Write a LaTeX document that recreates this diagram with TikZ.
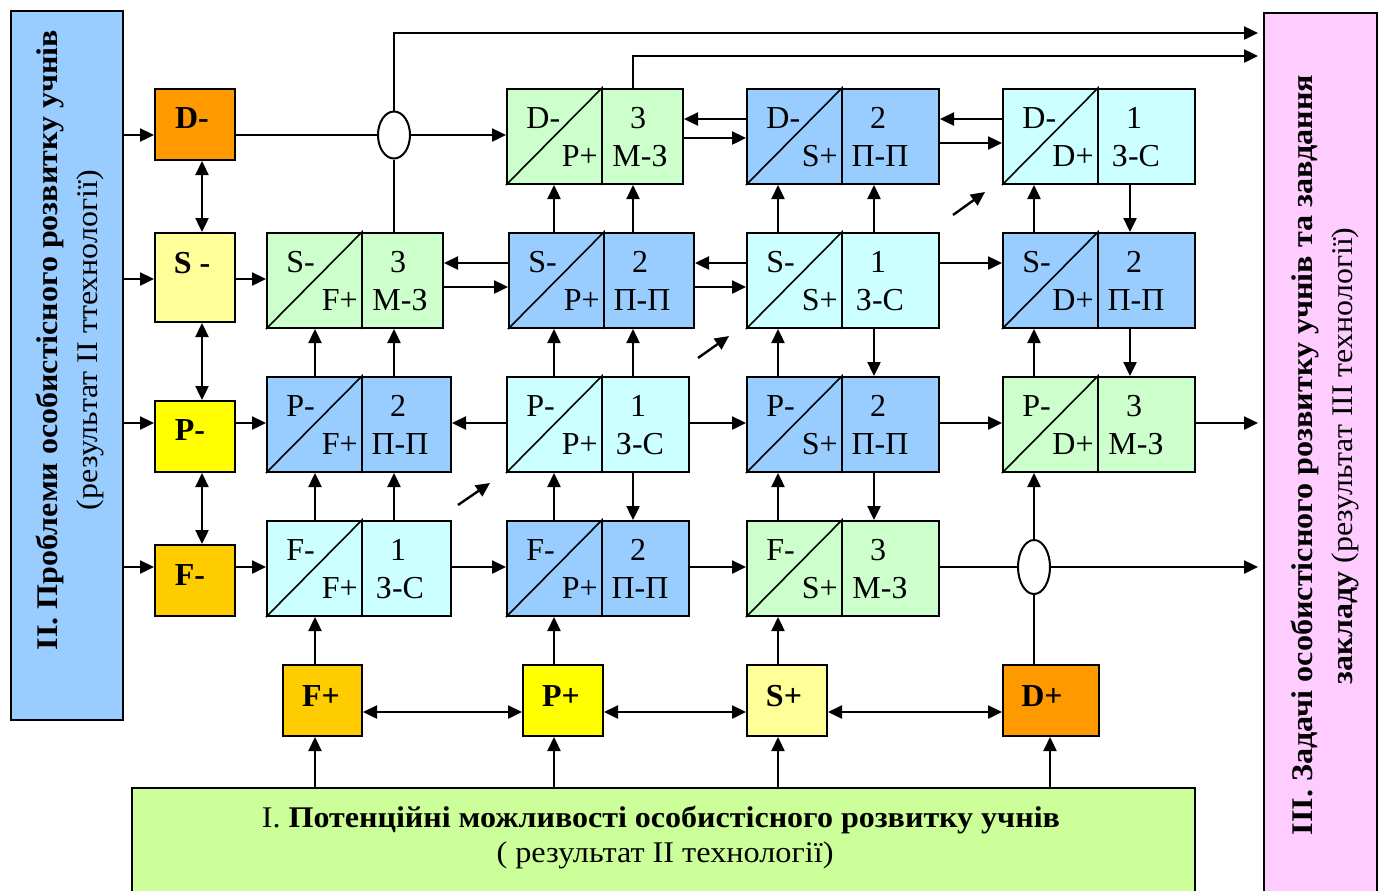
\documentclass[tikz,border=0pt]{standalone}
\usepackage{fontspec}
\setmainfont{Liberation Serif}
\usetikzlibrary{arrows.meta,shapes.geometric,calc}
\definecolor{sideblue}{HTML}{99CCFF}
\definecolor{cgreen}{HTML}{CCFFCC}
\definecolor{cblue}{HTML}{99CCFF}
\definecolor{ccyan}{HTML}{CCFFFF}
\definecolor{corange}{HTML}{FF9900}
\definecolor{cltyellow}{HTML}{FFFF99}
\definecolor{cyellow}{HTML}{FFFF00}
\definecolor{cgold}{HTML}{FFCC00}
\definecolor{botgreen}{HTML}{CCFF99}
\definecolor{cpink}{HTML}{FFCCFF}
\tikzset{
  cellbox/.style={draw, line width=1pt, inner sep=0pt, minimum height=47.5pt, anchor=north west},
  smallbox/.style={draw, line width=1pt, inner sep=0pt, anchor=north west},
  celltext/.style={inner sep=0pt, font=\fontsize{16}{18}\selectfont},
  boldtext/.style={inner sep=0pt, font=\fontsize{16}{18}\selectfont\bfseries},
  sidetext/.style={inner sep=0pt, rotate=90, font=\fontsize{15}{17}\selectfont},
  ln/.style={line width=1.2pt},
  arr/.style={line width=1.2pt, -{Triangle[length=7pt,width=6.5pt]}},
  darr/.style={line width=1.2pt, {Triangle[length=7pt,width=6.5pt]}-{Triangle[length=7pt,width=6.5pt]}},
  diag/.style={line width=0.8pt}
}
\newcommand{\mycell}[9]{%
  \node[cellbox, fill=#5, minimum width=#4*0.5pt] (#1) at (#2,#3) {};
  \draw[diag] (#1.south west) -- ($(#1.north west)+(96,0)$) -- ($(#1.south west)+(96,0)$);
  \node[celltext, anchor=base west] (#1-a) at ($(#1.north west)+(20,40)$) {#6};
  \node[celltext, anchor=base east] (#1-b) at ($(#1.north west)+(92,78)$) {#7};
  \node[celltext, anchor=base] (#1-n) at ($(#1.north west)+(132,40)$) {#8};
  \node[celltext, anchor=base] (#1-c) at ($(#1.north west)+(134,78)$) {#9};
}
\begin{document}
\begin{tikzpicture}[x=0.5pt,y=-0.5pt]
\useasboundingbox (0,0) rectangle (1386,890);

% ---- side panels and bottom panel
\node[smallbox, fill=sideblue, minimum width=56pt, minimum height=354.5pt] (L) at (10,10) {};
\node[sidetext, font=\fontsize{15}{17}\selectfont\bfseries] (Lt1) at (50,340) {\resizebox{310pt}{\height}{ІІ. Проблеми особистісного розвитку учнів}};
\node[sidetext] (Lt2) at (90,340) {\resizebox{170pt}{\height}{(результат ІІ ттехнології)}};

\node[smallbox, fill=cpink, minimum width=56.5pt, minimum height=445pt] (R) at (1263,12) {};
\node[sidetext, font=\fontsize{15}{17}\selectfont\bfseries] (Rt1) at (1305,455) {\resizebox{380pt}{\height}{ІІІ. Задачі особистісного розвитку учнів та завдання}};
\node[sidetext] (Rt2) at (1345,456) {\resizebox{228.5pt}{\height}{\textbf{закладу} (результат ІІІ технології)}};

\node[smallbox, fill=botgreen, minimum width=531.5pt, minimum height=56pt] (B) at (131,787) {};
\node[inner sep=0pt, font=\fontsize{15}{17}\selectfont] (Bt1) at (661,820) {\resizebox{399pt}{\height}{І. \textbf{Потенційні можливості особистісного розвитку учнів}}};
\node[inner sep=0pt, font=\fontsize{15}{17}\selectfont] (Bt2) at (665,855) {\resizebox{168.5pt}{\height}{( результат ІІ технології)}};

% ---- left small boxes
\node[smallbox, fill=corange, minimum width=40pt, minimum height=35.5pt] (Dm) at (154,88) {};
\node[boldtext, anchor=base] (Dmt) at (192,128) {D-};
\node[smallbox, fill=cltyellow, minimum width=40pt, minimum height=44.5pt] (Sm) at (154,232) {};
\node[boldtext, anchor=base] (Smt) at (192,273) {S -};
\node[smallbox, fill=cyellow, minimum width=40pt, minimum height=35.5pt] (Pm) at (154,400) {};
\node[boldtext, anchor=base] (Pmt) at (190,440) {P-};
\node[smallbox, fill=cgold, minimum width=40pt, minimum height=35.5pt] (Fm) at (154,544) {};
\node[boldtext, anchor=base] (Fmt) at (190,585) {F-};

% ---- bottom small boxes
\node[smallbox, fill=cgold, minimum width=39.5pt, minimum height=35.5pt] (Fp) at (282,664) {};
\node[boldtext, anchor=base] (Fpt) at (321,706) {F+};
\node[smallbox, fill=cyellow, minimum width=40pt, minimum height=35.5pt] (Pp) at (522,664) {};
\node[boldtext, anchor=base] (Ppt) at (561,706) {P+};
\node[smallbox, fill=cltyellow, minimum width=40pt, minimum height=35.5pt] (Sp) at (746,664) {};
\node[boldtext, anchor=base] (Spt) at (784,706) {S+};
\node[smallbox, fill=corange, minimum width=48pt, minimum height=35.5pt] (Dp) at (1002,664) {};
\node[boldtext, anchor=base] (Dpt) at (1042,706) {D+};

% ---- grid cells
\mycell{DP}{506}{88}{176}{cgreen}{D-}{P+}{3}{М-З}
\mycell{DS}{746}{88}{192}{cblue}{D-}{S+}{2}{П-П}
\mycell{DD}{1002}{88}{192}{ccyan}{D-}{D+}{1}{З-С}

\mycell{SF}{266}{232}{176}{cgreen}{S-}{F+}{3}{М-З}
\mycell{SP}{508}{232}{185}{cblue}{S-}{P+}{2}{П-П}
\mycell{SS}{746}{232}{192}{ccyan}{S-}{S+}{1}{З-С}
\mycell{SD}{1002}{232}{192}{cblue}{S-}{D+}{2}{П-П}

\mycell{PF}{266}{376}{184}{cblue}{P-}{F+}{2}{П-П}
\mycell{PP}{506}{376}{182}{ccyan}{P-}{P+}{1}{З-С}
\mycell{PS}{746}{376}{192}{cblue}{P-}{S+}{2}{П-П}
\mycell{PD}{1002}{376}{192}{cgreen}{P-}{D+}{3}{М-З}

\mycell{FF}{266}{520}{184}{ccyan}{F-}{F+}{1}{З-С}
\mycell{FP}{506}{520}{182}{cblue}{F-}{P+}{2}{П-П}
\mycell{FS}{746}{520}{192}{cgreen}{F-}{S+}{3}{М-З}

% ---- free ends
\coordinate (t1) at (1258,33);
\coordinate (t2) at (1258,56);
\coordinate (oP) at (1258,423);
\coordinate (oF) at (1258,567);

% ---- crossings
\node[ellipse, draw, fill=white, line width=1pt, minimum width=16pt, minimum height=23.5pt, inner sep=0pt] (e1) at (394,135) {};
\node[ellipse, draw, fill=white, line width=1pt, minimum width=16pt, minimum height=27pt, inner sep=0pt] (e2) at (1034,567) {};

% ---- sidebar to left boxes
\draw[arr] (L.east |- 0,135) -- (Dm.west |- 0,135);
\draw[arr] (L.east |- 0,279) -- (Sm.west |- 0,279);
\draw[arr] (L.east |- 0,423) -- (Pm.west |- 0,423);
\draw[arr] (L.east |- 0,567) -- (Fm.west |- 0,567);
\draw[darr] (Dm.south -| 202,0) -- (Sm.north -| 202,0);
\draw[darr] (Sm.south -| 202,0) -- (Pm.north -| 202,0);
\draw[darr] (Pm.south -| 202,0) -- (Fm.north -| 202,0);

% ---- row D
\draw[ln] (Dm.east |- 0,135) -- (e1.west);
\draw[arr] (e1.east) -- (DP.west |- 0,135);
\draw[arr] (DS.west |- 0,119) -- (DP.east |- 0,119);
\draw[arr] (DP.east |- 0,138) -- (DS.west |- 0,138);
\draw[arr] (DD.west |- 0,119) -- (DS.east |- 0,119);
\draw[arr] (DS.east |- 0,143) -- (DD.west |- 0,143);
\draw[ln] (SF.north -| 394,0) -- (e1.south);
\draw[arr] (e1.north) |- (t1);
\draw[arr] (DP.north -| 633,0) |- (t2);

% ---- row S
\draw[arr] (Sm.east |- 0,279) -- (SF.west |- 0,279);
\draw[arr] (SP.west |- 0,263) -- (SF.east |- 0,263);
\draw[arr] (SF.east |- 0,287) -- (SP.west |- 0,287);
\draw[arr] (SS.west |- 0,263) -- (SP.east |- 0,263);
\draw[arr] (SP.east |- 0,287) -- (SS.west |- 0,287);
\draw[arr] (SS.east |- 0,263) -- (SD.west |- 0,263);

% ---- row P
\draw[arr] (Pm.east |- 0,423) -- (PF.west |- 0,423);
\draw[arr] (PP.west |- 0,423) -- (PF.east |- 0,423);
\draw[arr] (PP.east |- 0,423) -- (PS.west |- 0,423);
\draw[arr] (PS.east |- 0,423) -- (PD.west |- 0,423);
\draw[arr] (PD.east |- 0,423) -- (oP);

% ---- row F
\draw[arr] (Fm.east |- 0,567) -- (FF.west |- 0,567);
\draw[arr] (FF.east |- 0,567) -- (FP.west |- 0,567);
\draw[arr] (FP.east |- 0,567) -- (FS.west |- 0,567);
\draw[ln] (FS.east |- 0,567) -- (e2.west);
\draw[arr] (e2.east) -- (oF);

% ---- verticals F -> P
\draw[arr] (FF.north -| 315,0) -- (PF.south -| 315,0);
\draw[arr] (FF.north -| 394,0) -- (PF.south -| 394,0);
\draw[arr] (FP.north -| 554,0) -- (PP.south -| 554,0);
\draw[arr] (PP.south -| 633,0) -- (FP.north -| 633,0);
\draw[arr] (FS.north -| 778,0) -- (PS.south -| 778,0);
\draw[arr] (PS.south -| 874,0) -- (FS.north -| 874,0);

% ---- verticals P -> S
\draw[arr] (PF.north -| 315,0) -- (SF.south -| 315,0);
\draw[arr] (PF.north -| 394,0) -- (SF.south -| 394,0);
\draw[arr] (PP.north -| 554,0) -- (SP.south -| 554,0);
\draw[arr] (PP.north -| 633,0) -- (SP.south -| 633,0);
\draw[arr] (PS.north -| 778,0) -- (SS.south -| 778,0);
\draw[arr] (SS.south -| 874,0) -- (PS.north -| 874,0);
\draw[arr] (PD.north -| 1034,0) -- (SD.south -| 1034,0);
\draw[arr] (SD.south -| 1130,0) -- (PD.north -| 1130,0);

% ---- verticals S -> D
\draw[arr] (SP.north -| 554,0) -- (DP.south -| 554,0);
\draw[arr] (SP.north -| 633,0) -- (DP.south -| 633,0);
\draw[arr] (SS.north -| 778,0) -- (DS.south -| 778,0);
\draw[arr] (SS.north -| 874,0) -- (DS.south -| 874,0);
\draw[arr] (SD.north -| 1034,0) -- (DD.south -| 1034,0);
\draw[arr] (DD.south -| 1130,0) -- (SD.north -| 1130,0);

% ---- bottom
\draw[arr] (B.north -| 315,0) -- (Fp.south -| 315,0);
\draw[arr] (B.north -| 554,0) -- (Pp.south -| 554,0);
\draw[arr] (B.north -| 778,0) -- (Sp.south -| 778,0);
\draw[arr] (B.north -| 1050,0) -- (Dp.south -| 1050,0);
\draw[arr] (Fp.north -| 315,0) -- (FF.south -| 315,0);
\draw[arr] (Pp.north -| 554,0) -- (FP.south -| 554,0);
\draw[arr] (Sp.north -| 778,0) -- (FS.south -| 778,0);
\draw[ln] (Dp.north -| 1034,0) -- (e2.south);
\draw[arr] (e2.north) -- (PD.south -| 1034,0);
\draw[darr] (Fp.east |- 0,712) -- (Pp.west |- 0,712);
\draw[darr] (Pp.east |- 0,712) -- (Sp.west |- 0,712);
\draw[darr] (Sp.east |- 0,712) -- (Dp.west |- 0,712);

% ---- small diagonal arrows
\coordinate (g1s) at (458,505); \coordinate (g1e) at (490,483);
\coordinate (g2s) at (698,358); \coordinate (g2e) at (729,336);
\coordinate (g3s) at (953,215); \coordinate (g3e) at (985,192);
\draw[arr] (g1s) -- (g1e);
\draw[arr] (g2s) -- (g2e);
\draw[arr] (g3s) -- (g3e);
\end{tikzpicture}
\end{document}
